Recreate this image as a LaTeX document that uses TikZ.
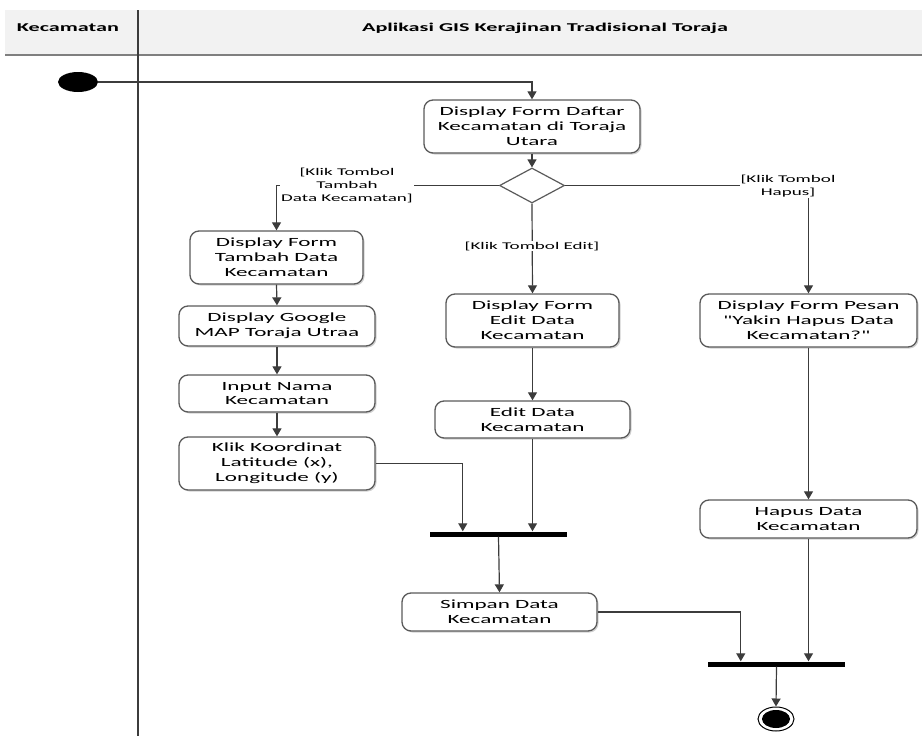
\documentclass[tikz,border=0pt]{standalone}
\usepackage{fontspec}
\setmainfont{Carlito}[FakeStretch=1.85, Ligatures=TeXOff]
\usetikzlibrary{arrows.meta,shapes.geometric,shadows,calc}
\definecolor{boxgray}{HTML}{5A5A5A}
\definecolor{linegray}{HTML}{3C3C3C}
\definecolor{hdrfill}{HTML}{F2F2F2}
\definecolor{hdrline}{HTML}{7F7F7F}
\begin{document}
\begin{tikzpicture}[x=1pt,y=-1pt,
  act/.style={draw=boxgray, line width=1.3pt, rounded corners=9pt, fill=white,
    align=center, inner sep=0pt, font=\fontsize{12.5}{14.8}\selectfont,
    drop shadow={shadow xshift=1.5pt, shadow yshift=-1.5pt, fill=black, opacity=0.18}},
  flow/.style={draw=linegray, line width=1.2pt, -{Triangle[width=9pt,length=8pt]}},
  guard/.style={fill=white, align=center, inner sep=1pt, font=\fontsize{10.3}{12.8}\selectfont},
  joinbar/.style={fill=black, inner sep=0pt, minimum width=137pt, minimum height=5pt},
  hdrtext/.style={font=\fontsize{12}{14}\selectfont\bfseries}]
\useasboundingbox (0,0) rectangle (922,736);
% header
\fill[hdrfill] (5,10) rectangle (922,55);
\draw[hdrline, line width=2.5pt] (5,55) -- (922,55);
\draw[linegray, line width=1.5pt] (138,10) -- (138,736);
\node[hdrtext] (lane1) at (68,28) {Kecamatan};
\node[hdrtext] (lane2) at (545,28) {Aplikasi GIS Kerajinan Tradisional Toraja};
% nodes
\node[ellipse, fill=black, minimum width=40pt, minimum height=20pt, inner sep=0pt] (start) at (78,82) {};
\node[act, minimum width=216pt, minimum height=53pt] (daftar) at (532,126.5) {Display Form Daftar\\Kecamatan di Toraja\\Utara};
\node[diamond, draw=boxgray, line width=1.2pt, fill=white, inner sep=0pt, minimum width=65pt, minimum height=35pt] (dia) at (532,185.5) {};
\node[act, minimum width=173pt, minimum height=53pt] (tambah) at (276.5,257.5) {Display Form\\Tambah Data\\Kecamatan};
\node[act, minimum width=196pt, minimum height=40pt] (gmap) at (277,326) {Display Google\\MAP Toraja Utraa};
\node[act, minimum width=196pt, minimum height=37pt] (nama) at (277,393.5) {Input Nama\\Kecamatan};
\node[act, minimum width=196pt, minimum height=53pt] (klik) at (277,463.5) {Klik Koordinat\\Latitude (x),\\Longitude (y)};
\node[act, minimum width=173pt, minimum height=53pt] (editf) at (532.5,320.5) {Display Form\\Edit Data\\Kecamatan};
\node[act, minimum width=195pt, minimum height=37pt] (editd) at (532.5,419.5) {Edit Data\\Kecamatan};
\node[act, minimum width=217pt, minimum height=53pt] (pesan) at (808.5,320.5) {Display Form Pesan\\"Yakin Hapus Data\\Kecamatan?"};
\node[act, minimum width=217pt, minimum height=38pt] (hapus) at (808.5,519) {Hapus Data\\Kecamatan};
\node[act, minimum width=195pt, minimum height=38pt] (simpan) at (499.5,612) {Simpan Data\\Kecamatan};
\node[joinbar] (bar1) at (498.5,534) {};
\node[joinbar] (bar2) at (776.5,664) {};
\node[ellipse, draw=black, line width=1pt, fill=white, minimum width=36pt, minimum height=24pt, inner sep=0pt] (finish) at (776,719) {};
\node[ellipse, fill=black, minimum width=28pt, minimum height=18pt, inner sep=0pt] (finishin) at (776,719) {};
% connectors
\draw[flow] (start.east) -| (daftar.north);
\draw[flow] (daftar.south) -- (dia.north);
\draw[flow] (dia.west) -| (tambah.north);
\node[guard] (g1) at (347,185.5) {[Klik Tombol\\Tambah\\Data Kecamatan]};
\draw[flow] (dia.south) -- (editf.north);
\node[guard] (g2) at (532,246) {[Klik Tombol Edit]};
\draw[flow] (dia.east) -| (pesan.north);
\node[guard] (g3) at (788,186.5) {[Klik Tombol\\Hapus]};
\draw[flow] (tambah.south) -- (gmap.north);
\draw[flow] (gmap.south) -- (nama.north);
\draw[flow] (nama.south) -- (klik.north);
\draw[flow] (klik.east) -| ($(bar1.north west)!0.24!(bar1.north east)$);
\draw[flow] (editf.south) -- (editd.north);
\draw[flow] (editd.south) -- (editd.south |- bar1.north);
\draw[flow] (bar1.south) -- (simpan.north);
\draw[flow] (simpan.east) -| ($(bar2.north west)!0.24!(bar2.north east)$);
\draw[flow] (pesan.south) -- (hapus.north);
\draw[flow] (hapus.south) -- (hapus.south |- bar2.north);
\draw[flow] (bar2.south) -- (finish.north);
\end{tikzpicture}
\end{document}
